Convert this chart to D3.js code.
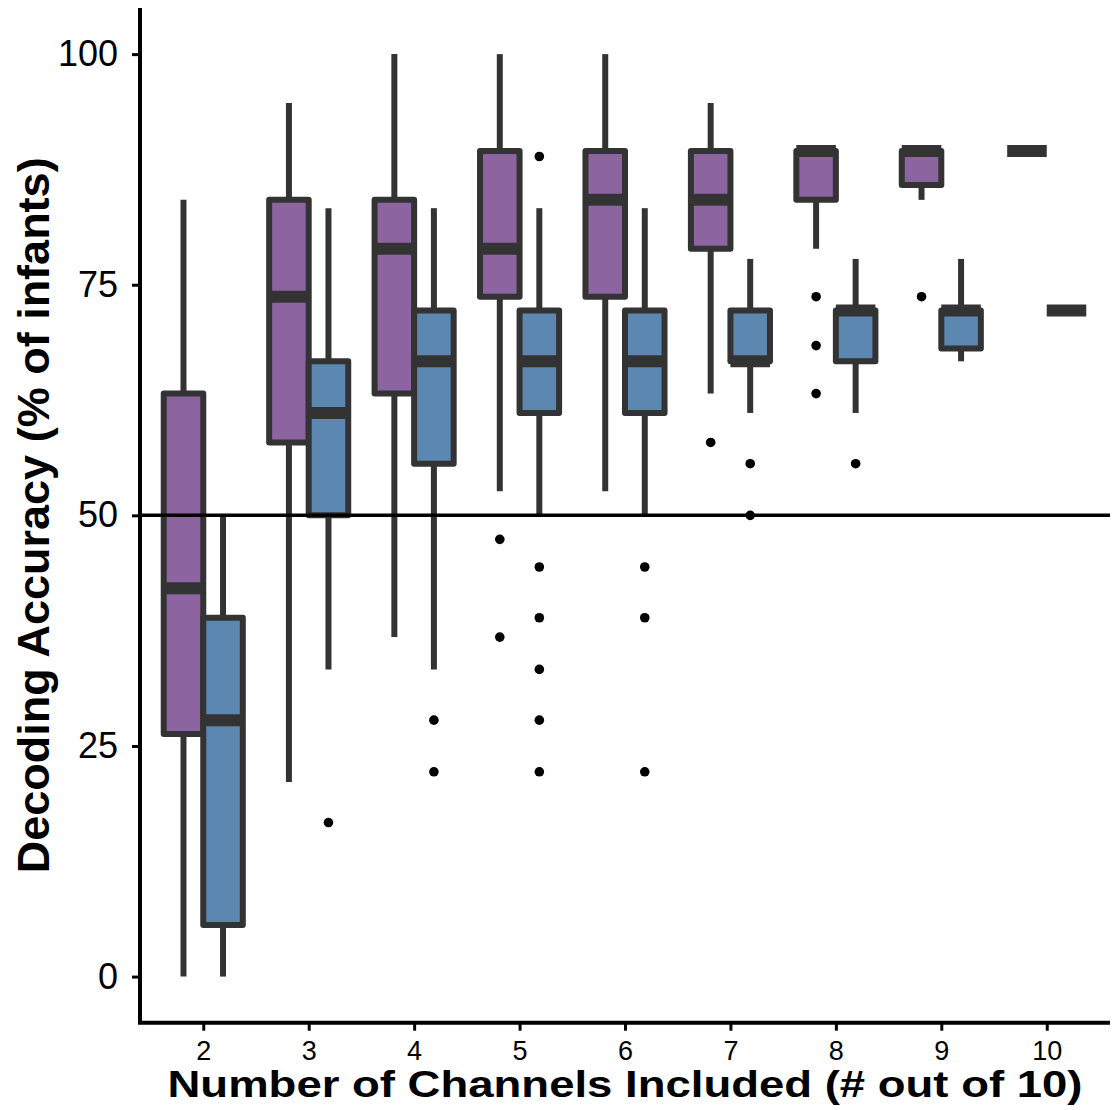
<!DOCTYPE html>
<html>
<head>
<meta charset="utf-8">
<script src="https://cdn.jsdelivr.net/npm/d3@7"></script>
<style>
  html, body { margin: 0; padding: 0; background: #fff; }
  svg { display: block; }
  text { font-family: "Liberation Sans", Arial, sans-serif; }
</style>
</head>
<body>
<svg id="chart" width="1117" height="1110"></svg>
<script>
// ---------------- DATA ----------------
const categories = ["2", "3", "4", "5", "6", "7", "8", "9", "10"];
const seriesNames = ["purple", "blue"];

// five-number summaries: [lower whisker, Q1, median, Q3, upper whisker]
const purpleStats = [
  [0, 26.3, 42.1, 63.2, 84.2],
  [21.1, 57.9, 73.7, 84.2, 94.7],
  [36.8, 63.2, 78.9, 84.2, 100],
  [52.6, 73.7, 78.9, 89.5, 100],
  [52.6, 73.7, 84.2, 89.5, 100],
  [63.2, 78.9, 84.2, 89.5, 94.7],
  [78.9, 84.2, 89.5, 89.5, 89.5],
  [84.2, 85.8, 89.5, 89.5, 89.5],
  [89.5, 89.5, 89.5, 89.5, 89.5]
];
const blueStats = [
  [0, 5.6, 27.8, 38.9, 50],
  [33.3, 50, 61.1, 66.7, 83.3],
  [33.3, 55.6, 66.7, 72.2, 83.3],
  [50, 61.1, 66.7, 72.2, 83.3],
  [50, 61.1, 66.7, 72.2, 83.3],
  [61.1, 66.7, 66.7, 72.2, 77.8],
  [61.1, 66.7, 72.2, 72.2, 77.8],
  [66.7, 68.1, 72.2, 72.2, 77.8],
  [72.2, 72.2, 72.2, 72.2, 72.2]
];
const purpleOutliers = [
  [], [], [], [47.4, 36.8], [], [57.9], [73.7, 68.4, 63.2], [73.7], []
];
const blueOutliers = [
  [], [16.7], [27.8, 22.2], [88.9, 44.4, 38.9, 33.3, 27.8, 22.2], [44.4, 38.9, 22.2], [55.6, 50], [55.6], [], []
];
const yTicks = [0, 25, 50, 75, 100];
const refLine = 50;
const xTitle = "Number of Channels Included (# out of 10)";
const yTitle = "Decoding Accuracy (% of infants)";

// ---------------- LAYOUT ----------------
const svg = d3.select("#chart");
const mLeft = 140, mRight = 1110, mTop = 8, mBottom = 1022.7;
const colors = { purple: "#8B64A0", blue: "#5B87B1" };
const edge = "#333333";
const lw = 6;

const x = d3.scalePoint().domain(categories).range([mLeft, mRight]).padding(0.6);
const y = d3.scaleLinear().domain([-5, 105]).range([mBottom, mTop]);
const boxW = x.step() * 0.375;
const xs = d3.scaleBand().domain(seriesNames).range([-boxW, boxW]);

const groups = [];
categories.forEach((c, i) => {
  groups.push({ cat: c, series: "purple", s: purpleStats[i], out: purpleOutliers[i] });
  groups.push({ cat: c, series: "blue", s: blueStats[i], out: blueOutliers[i] });
});

const g = svg.append("g");
const bx = g.selectAll("g.box").data(groups).join("g")
  .attr("class", "box")
  .attr("transform", d => `translate(${x(d.cat) + xs(d.series) + xs.bandwidth() / 2},0)`);

// outliers
bx.selectAll("circle").data(d => d.out).join("circle")
  .attr("cx", 0).attr("cy", v => y(v)).attr("r", 4.8).attr("fill", "#000");

// whiskers
bx.append("line").attr("x1", 0).attr("x2", 0)
  .attr("y1", d => y(d.s[3])).attr("y2", d => y(d.s[4]))
  .attr("stroke", edge).attr("stroke-width", lw);
bx.append("line").attr("x1", 0).attr("x2", 0)
  .attr("y1", d => y(d.s[1])).attr("y2", d => y(d.s[0]))
  .attr("stroke", edge).attr("stroke-width", lw);

// box
bx.append("rect")
  .attr("x", -xs.bandwidth() / 2).attr("width", xs.bandwidth())
  .attr("y", d => y(d.s[3])).attr("height", d => y(d.s[1]) - y(d.s[3]))
  .attr("fill", d => colors[d.series])
  .attr("stroke", edge).attr("stroke-width", lw).attr("stroke-linejoin", "round");

// median
bx.append("line")
  .attr("x1", -xs.bandwidth() / 2).attr("x2", xs.bandwidth() / 2)
  .attr("y1", d => y(d.s[2])).attr("y2", d => y(d.s[2]))
  .attr("stroke", edge).attr("stroke-width", lw * 2);

// reference line
svg.append("line")
  .attr("x1", mLeft).attr("x2", mRight)
  .attr("y1", y(refLine)).attr("y2", y(refLine))
  .attr("stroke", "#000").attr("stroke-width", 3.5);

// axes
const yAxis = svg.append("g").attr("transform", `translate(${mLeft},0)`)
  .call(d3.axisLeft(y).tickValues(yTicks).tickSize(8).tickSizeOuter(0).tickPadding(14));
yAxis.select(".domain").remove();
yAxis.selectAll(".tick line").attr("stroke", "#000").attr("stroke-width", 3);
yAxis.selectAll(".tick text").attr("fill", "#000").style("font-size", "36px");

const xAxis = svg.append("g").attr("transform", `translate(0,${mBottom})`)
  .call(d3.axisBottom(x).tickSize(8).tickSizeOuter(0).tickPadding(10));
xAxis.select(".domain").remove();
xAxis.selectAll(".tick line").attr("stroke", "#000").attr("stroke-width", 3);
xAxis.selectAll(".tick text").attr("fill", "#000").style("font-size", "27px");

svg.append("path")
  .attr("d", `M${mLeft},${mTop}V${mBottom}H${mRight}`)
  .attr("fill", "none").attr("stroke", "#000").attr("stroke-width", 4)
  .attr("stroke-linejoin", "miter");

// titles
svg.append("text")
  .attr("x", (mLeft + mRight) / 2).attr("y", 1097)
  .attr("text-anchor", "middle")
  .attr("textLength", 915).attr("lengthAdjust", "spacingAndGlyphs")
  .style("font-size", "36px").style("font-weight", "bold")
  .text(xTitle);

svg.append("text")
  .attr("transform", `translate(49,${(mTop + mBottom) / 2}) rotate(-90)`)
  .attr("text-anchor", "middle")
  .style("font-size", "45px").style("font-weight", "bold")
  .text(yTitle);
</script>
</body>
</html>
